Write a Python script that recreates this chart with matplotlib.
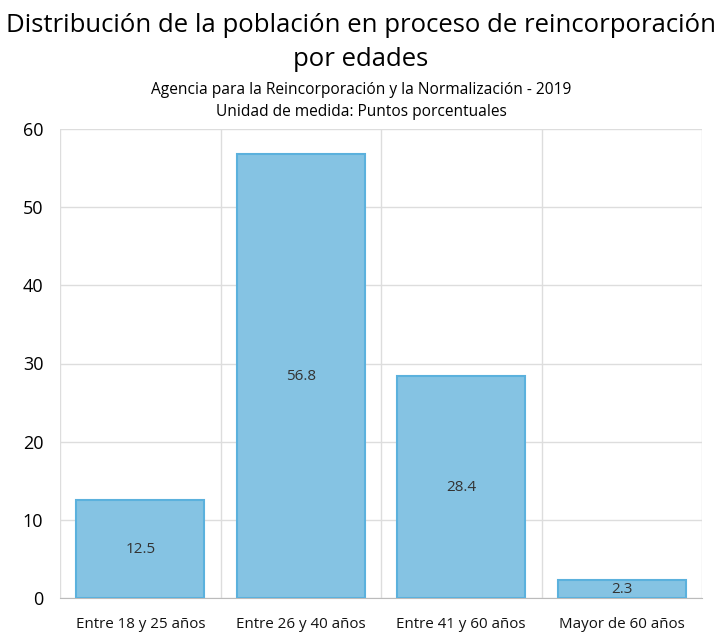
import matplotlib
matplotlib.use("Agg")
import matplotlib.pyplot as plt
import numpy as np

categories = ["Entre 18 y 25 años", "Entre 26 y 40 años", "Entre 41 y 60 años", "Mayor de 60 años"]
values = [12.5, 56.8, 28.4, 2.3]
yticks = [0, 10, 20, 30, 40, 50, 60]

plt.rcParams['font.family'] = ['Open Sans', 'DejaVu Sans']

fig = plt.figure(figsize=(7.22, 6.33), dpi=100)
ax = fig.add_axes([60/722, 35/633, 642/722, 469/633])

x = np.arange(len(categories))
ax.bar(x, values, width=0.8, color='#85C3E3', edgecolor='#5BB1DD', linewidth=1.5, zorder=3)
for xi, v in zip(x, values):
    ax.text(xi, v/2, f"{v}", ha='center', va='center', fontsize=11, color='#333333', zorder=4)

ax.set_xlim(-0.5, len(categories)-0.5)
ax.set_ylim(0, 60)
ax.set_yticks(yticks)
ax.set_xticks(x)
ax.set_xticklabels(categories, fontsize=10.9, color='#111111')
ax.set_xticks(np.arange(len(categories)+1)-0.5, minor=True)
ax.tick_params(axis='y', labelsize=13, length=0, pad=12)
ax.tick_params(axis='x', which='both', length=0, pad=14)
ax.grid(axis='y', color='#DDDDDD', linewidth=1, zorder=0)
ax.grid(axis='x', which='minor', color='#DDDDDD', linewidth=1, zorder=0)
ax.grid(axis='x', which='major', visible=False)
for s in ['top', 'right', 'left']:
    ax.spines[s].set_visible(False)
ax.spines['bottom'].set_color('#BBBBBB')

fig.text(0.5, 1 - 26/633, "Distribución de la población en proceso de reincorporación", ha='center', va='center', fontsize=18.5)
fig.text(0.5, 1 - 60/633, "por edades", ha='center', va='center', fontsize=18.5)
fig.text(0.5, 1 - 90/633, "Agencia para la Reincorporación y la Normalización - 2019", ha='center', va='center', fontsize=11.2)
fig.text(0.5, 1 - 112/633, "Unidad de medida: Puntos porcentuales", ha='center', va='center', fontsize=11.2)

fig.savefig("out.png", dpi=100)
